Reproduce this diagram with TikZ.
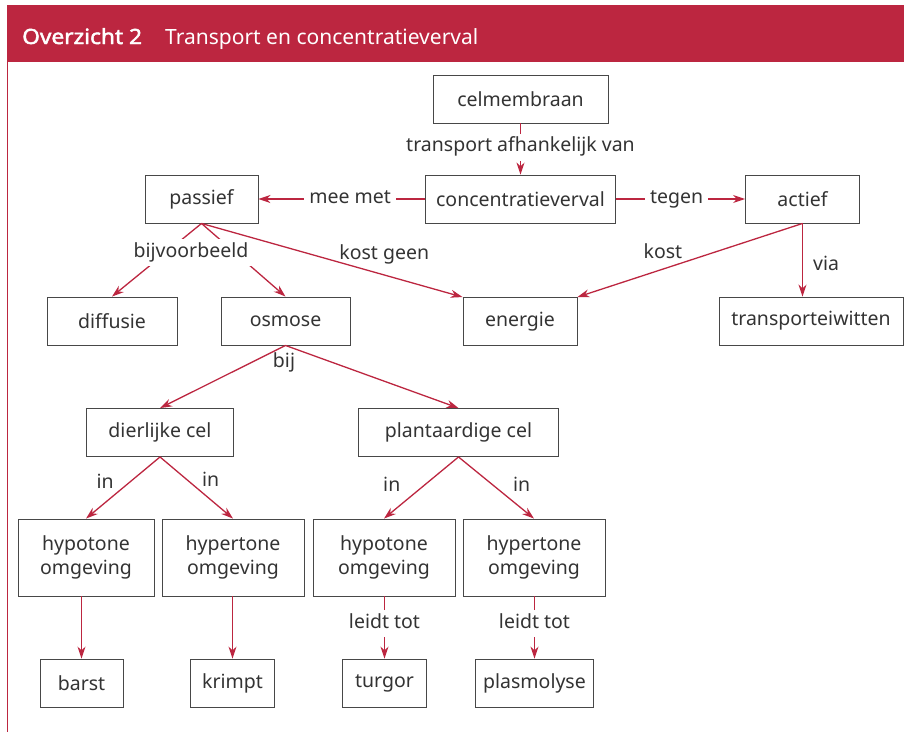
\documentclass[tikz,border=0pt]{standalone}
\usepackage{fontspec}
\setmainfont{Noto Sans}[BoldFont={Noto Sans}, BoldFeatures={FakeBold=2.2, FakeStretch=1.08}]
\usetikzlibrary{arrows.meta}
\definecolor{ovred}{RGB}{188,38,64}
\definecolor{ovgray}{RGB}{51,51,51}
\definecolor{ovrand}{RGB}{72,72,72}

\begin{document}
\begin{tikzpicture}[x=1pt, y=-1pt, >={Stealth[length=12pt, width=8pt]},
    every node/.style={font=\fontsize{19.5}{23.5}\selectfont, text=ovgray},
    box/.style={draw=ovrand, line width=0.9pt, minimum height=48pt, inner sep=0pt, align=center},
    tallbox/.style={box, minimum height=77pt},
    arr/.style={->, draw=ovred, line width=1.3pt},
    lbl/.style={fill=white, inner xsep=5pt, inner ysep=4pt, text height=14pt, text depth=5pt},
    note/.style={inner sep=3pt}]
    % 1. kader en kop
    \useasboundingbox (0,0) rectangle (904,732);
    \fill[ovred] (7,5) rectangle (904,62);
    \draw[ovred, line width=1.3pt] (7.6,62) -- (7.6,732);
    \node[anchor=base west, inner sep=0pt, text=white, font=\fontsize{21}{25}\selectfont\bfseries] (kopnr) at (22,44) {Overzicht 2};
    \node[anchor=base west, inner sep=0pt, text=white, font=\fontsize{21}{25}\selectfont] (koptitel) at (165,44) {Transport en concentratieverval};

    % 2. vakjes
    \node[box, minimum width=175pt] (celm) at (520.5,99) {celmembraan};
    \node[box, minimum width=190pt] (conc) at (520.5,199) {concentratieverval};
    \node[box, minimum width=113pt] (passief) at (201.5,199) {passief};
    \node[box, minimum width=114pt] (actief) at (802.5,199) {actief};
    \node[box, minimum width=130pt] (diffusie) at (112,321) {diffusie};
    \node[box, minimum width=129pt] (osmose) at (285.5,321) {osmose};
    \node[box, minimum width=114pt] (energie) at (520,321.5) {energie};
    \node[box, minimum width=184pt] (trans) at (811,321) {transporteiwitten};
    \node[box, minimum width=147pt] (dier) at (160,432.5) {dierlijke cel};
    \node[box, minimum width=200pt] (plant) at (458.5,432.5) {plantaardige cel};
    \node[tallbox, minimum width=136pt] (hypoA) at (86,557.5) {hypotone\\omgeving};
    \node[tallbox, minimum width=142pt] (hyperA) at (233,557.5) {hypertone\\omgeving};
    \node[tallbox, minimum width=142pt] (hypoB) at (384,557.5) {hypotone\\omgeving};
    \node[tallbox, minimum width=142pt] (hyperB) at (534,557.5) {hypertone\\omgeving};
    \node[box, minimum width=83pt] (barst) at (81.5,683) {barst};
    \node[box, minimum width=84pt] (krimpt) at (232.5,683) {krimpt};
    \node[box, minimum width=84pt] (turgor) at (384.5,683) {turgor};
    \node[box, minimum width=118pt] (plasmo) at (534.5,683) {plasmolyse};

    % 3. pijlen
    \draw[arr] (celm) -- node[lbl, pos=.47] {transport afhankelijk van} (conc);
    \draw[arr] (conc) -- node[lbl, pos=.45] {mee met} (passief);
    \draw[arr] (conc) -- node[lbl, pos=.47] {tegen} (actief);
    \draw[arr] (passief.south) -- (diffusie.north);
    \draw[arr] (passief.south) -- (osmose.north);
    \node[lbl] (bijv) at (191,252.5) {bijvoorbeeld};
    \draw[arr] (passief.south) -- node[note, pos=.7, above=7pt] {kost geen} (energie.north west);
    \draw[arr] (actief.south) -- node[note, pos=.62, above=7pt] {kost} (energie.north east);
    \draw[arr] (actief.south) -- node[note, pos=.55, right=7pt] {via} (actief.south |- trans.north);
    \draw[arr] (osmose.south) -- (dier.north);
    \draw[arr] (osmose.south) -- (plant.north);
    \node[inner sep=1pt] (bij) at (284,362.5) {bij};
    \draw[arr] (dier.south) -- node[note, pos=.4, left=13pt] {in} (hypoA.north);
    \draw[arr] (dier.south) -- node[note, pos=.37, right=11.5pt] {in} (hyperA.north);
    \draw[arr] (plant.south) -- node[note, pos=.45, left=21pt] {in} (hypoB.north);
    \draw[arr] (plant.south) -- node[note, pos=.45, right=17pt] {in} (hyperB.north);
    \draw[arr] (barst |- hypoA.south) -- (barst.north);
    \draw[arr] (krimpt |- hyperA.south) -- (krimpt.north);
    \draw[arr] (turgor |- hypoB.south) -- node[lbl, pos=.44] {leidt tot} (turgor.north);
    \draw[arr] (plasmo |- hyperB.south) -- node[lbl, pos=.44] {leidt tot} (plasmo.north);
\end{tikzpicture}
\end{document}
